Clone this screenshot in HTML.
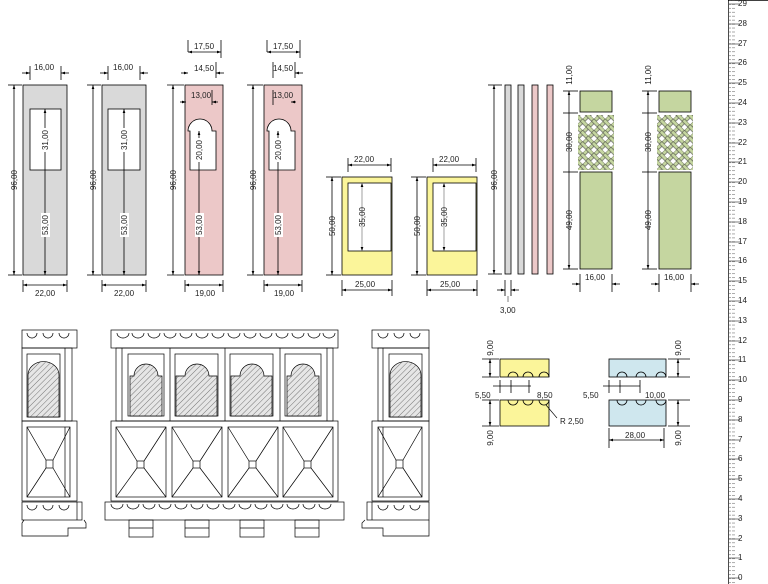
<!DOCTYPE html>
<html><head><meta charset="utf-8"><style>
html,body{margin:0;padding:0;background:#fff}
svg{display:block;font-family:"Liberation Sans",sans-serif}
text{font-size:8px;fill:#222}
</style></head><body>
<svg width="768" height="584" viewBox="0 0 768 584" xmlns="http://www.w3.org/2000/svg">
<defs>
<marker id="a" viewBox="0 0 6 6" refX="6" refY="3" markerWidth="5" markerHeight="5" orient="auto-start-reverse"><path d="M0,1 L6,3 L0,5z" fill="#000"/></marker>
<pattern id="h" width="4" height="4" patternUnits="userSpaceOnUse" patternTransform="rotate(45)"><rect width="4" height="4" fill="#e6e6e6"/><line x1="0" y1="0" x2="0" y2="4" stroke="#444" stroke-width="0.7"/></pattern>
<pattern id="g" width="8" height="8" patternUnits="userSpaceOnUse" patternTransform="rotate(45)"><rect width="8" height="8" fill="#fff"/><rect x="0" y="0" width="3.5" height="8" fill="#c5d6a0" stroke="#333" stroke-width="0.5"/><rect x="0" y="0" width="8" height="3.5" fill="#c5d6a0" stroke="#333" stroke-width="0.5"/></pattern>
<pattern id="rt" width="6" height="3.96" patternUnits="userSpaceOnUse" y="4"><line x1="0" y1="0.3" x2="5" y2="0.3" stroke="#555" stroke-width="0.5"/></pattern>
</defs>
<g stroke="#000" stroke-width="0.8" fill="none">
<rect x="23" y="85" width="44" height="190" fill="#d9d9d9"/>
<rect x="30" y="109" width="31" height="61" fill="#fff"/>
<line x1="45" y1="109" x2="45" y2="275" marker-start="url(#a)" marker-end="url(#a)"/>
<line x1="14" y1="85" x2="14" y2="275" marker-start="url(#a)" marker-end="url(#a)"/>
<line x1="8" y1="85" x2="22" y2="85"/><line x1="8" y1="275" x2="22" y2="275"/>
<line x1="30" y1="66" x2="30" y2="80"/><line x1="61" y1="66" x2="61" y2="80"/>
<line x1="22" y1="73" x2="30" y2="73" marker-end="url(#a)"/><line x1="69" y1="73" x2="61" y2="73" marker-end="url(#a)"/>
<line x1="23" y1="280" x2="23" y2="292"/><line x1="67" y1="280" x2="67" y2="292"/>
<line x1="23" y1="285" x2="67" y2="285" marker-start="url(#a)" marker-end="url(#a)"/>
<rect x="102" y="85" width="44" height="190" fill="#d9d9d9"/>
<rect x="108" y="109" width="32" height="61" fill="#fff"/>
<line x1="124" y1="109" x2="124" y2="275" marker-start="url(#a)" marker-end="url(#a)"/>
<line x1="93" y1="85" x2="93" y2="275" marker-start="url(#a)" marker-end="url(#a)"/>
<line x1="87" y1="85" x2="101" y2="85"/><line x1="87" y1="275" x2="101" y2="275"/>
<line x1="108" y1="66" x2="108" y2="80"/><line x1="140" y1="66" x2="140" y2="80"/>
<line x1="100" y1="73" x2="108" y2="73" marker-end="url(#a)"/><line x1="148" y1="73" x2="140" y2="73" marker-end="url(#a)"/>
<line x1="102" y1="280" x2="102" y2="292"/><line x1="146" y1="280" x2="146" y2="292"/>
<line x1="102" y1="285" x2="146" y2="285" marker-start="url(#a)" marker-end="url(#a)"/>
<rect x="185" y="85" width="38" height="190" fill="#ecc8c8"/>
<path d="M188,131 A12,12 0 0 1 212,131 L216,131 L216,170 L190,170 L190,131 Z" fill="#fff" stroke="#000"/>
<line x1="199" y1="131" x2="199" y2="275" marker-start="url(#a)" marker-end="url(#a)"/>
<line x1="173" y1="85" x2="173" y2="275" marker-start="url(#a)" marker-end="url(#a)"/>
<line x1="167" y1="85" x2="184" y2="85"/><line x1="167" y1="275" x2="184" y2="275"/>
<line x1="188" y1="40" x2="188" y2="52"/><line x1="221" y1="40" x2="221" y2="58"/>
<line x1="188" y1="52" x2="221" y2="52" marker-start="url(#a)" marker-end="url(#a)"/>
<line x1="216" y1="62" x2="216" y2="78"/><line x1="181" y1="73" x2="188" y2="73" marker-end="url(#a)"/><line x1="224" y1="73" x2="216" y2="73" marker-end="url(#a)"/>
<line x1="212" y1="90" x2="212" y2="105"/><line x1="180" y1="102" x2="186" y2="102" marker-end="url(#a)"/><line x1="218" y1="102" x2="212" y2="102" marker-end="url(#a)"/>
<line x1="185" y1="280" x2="185" y2="292"/><line x1="223" y1="280" x2="223" y2="292"/>
<line x1="185" y1="285" x2="223" y2="285" marker-start="url(#a)" marker-end="url(#a)"/>
<rect x="264" y="85" width="38" height="190" fill="#ecc8c8"/>
<path d="M267,131 A12,12 0 0 1 291,131 L295,131 L295,170 L269,170 L269,131 Z" fill="#fff" stroke="#000"/>
<line x1="278" y1="131" x2="278" y2="275" marker-start="url(#a)" marker-end="url(#a)"/>
<line x1="253" y1="85" x2="253" y2="275" marker-start="url(#a)" marker-end="url(#a)"/>
<line x1="247" y1="85" x2="263" y2="85"/><line x1="247" y1="275" x2="263" y2="275"/>
<line x1="267" y1="40" x2="267" y2="52"/><line x1="300" y1="40" x2="300" y2="58"/>
<line x1="267" y1="52" x2="300" y2="52" marker-start="url(#a)" marker-end="url(#a)"/>
<line x1="295" y1="62" x2="295" y2="78"/><line x1="273" y1="62" x2="273" y2="78"/><line x1="303" y1="73" x2="295" y2="73" marker-end="url(#a)"/>
<line x1="273" y1="90" x2="273" y2="105"/><line x1="296" y1="102" x2="291" y2="102" marker-end="url(#a)"/>
<line x1="264" y1="280" x2="264" y2="292"/><line x1="302" y1="280" x2="302" y2="292"/>
<line x1="264" y1="285" x2="302" y2="285" marker-start="url(#a)" marker-end="url(#a)"/>
<rect x="342" y="177" width="50" height="98" fill="#fbf59a"/>
<rect x="348" y="183" width="43" height="68" fill="#fff"/>
<line x1="362" y1="183" x2="362" y2="251" stroke="#888" marker-start="url(#a)" marker-end="url(#a)"/>
<line x1="332" y1="177" x2="332" y2="275" marker-start="url(#a)" marker-end="url(#a)"/>
<line x1="326" y1="177" x2="341" y2="177"/><line x1="326" y1="275" x2="341" y2="275"/>
<line x1="348" y1="158" x2="348" y2="172"/><line x1="391" y1="158" x2="391" y2="172"/>
<line x1="348" y1="165" x2="391" y2="165" marker-start="url(#a)" marker-end="url(#a)"/>
<line x1="342" y1="280" x2="342" y2="296"/><line x1="392" y1="280" x2="392" y2="296"/>
<line x1="342" y1="290" x2="392" y2="290" marker-start="url(#a)" marker-end="url(#a)"/>
<rect x="427" y="177" width="50" height="98" fill="#fbf59a"/>
<rect x="433" y="183" width="43" height="68" fill="#fff"/>
<line x1="444" y1="183" x2="444" y2="251" stroke="#888" marker-start="url(#a)" marker-end="url(#a)"/>
<line x1="417" y1="177" x2="417" y2="275" marker-start="url(#a)" marker-end="url(#a)"/>
<line x1="411" y1="177" x2="426" y2="177"/><line x1="411" y1="275" x2="426" y2="275"/>
<line x1="433" y1="158" x2="433" y2="172"/><line x1="476" y1="158" x2="476" y2="172"/>
<line x1="433" y1="165" x2="476" y2="165" marker-start="url(#a)" marker-end="url(#a)"/>
<line x1="427" y1="280" x2="427" y2="296"/><line x1="477" y1="280" x2="477" y2="296"/>
<line x1="427" y1="290" x2="477" y2="290" marker-start="url(#a)" marker-end="url(#a)"/>
<rect x="505" y="85" width="6" height="189" fill="#d9d9d9"/>
<rect x="518" y="85" width="6" height="189" fill="#d9d9d9"/>
<rect x="532" y="85" width="6" height="189" fill="#ecc8c8"/>
<rect x="547" y="85" width="6" height="189" fill="#ecc8c8"/>
<line x1="494" y1="85" x2="494" y2="274" marker-start="url(#a)" marker-end="url(#a)"/>
<line x1="488" y1="85" x2="502" y2="85"/><line x1="488" y1="274" x2="502" y2="274"/>
<line x1="505" y1="280" x2="505" y2="296"/><line x1="511" y1="280" x2="511" y2="296"/>
<line x1="497" y1="290" x2="505" y2="290" marker-end="url(#a)"/><line x1="519" y1="290" x2="511" y2="290" marker-end="url(#a)"/>
<line x1="508" y1="296" x2="508" y2="302" stroke-width="0.5"/>
<rect x="580" y="91" width="32" height="21" fill="#c5d6a0"/>
<rect x="578" y="115" width="36" height="55" fill="url(#g)" stroke="none"/>
<rect x="580" y="172" width="32" height="97" fill="#c5d6a0"/>
<line x1="569" y1="91" x2="569" y2="269" marker-start="url(#a)" marker-end="url(#a)"/>
<line x1="563" y1="91" x2="578" y2="91"/><line x1="563" y1="113" x2="578" y2="113"/><line x1="563" y1="172" x2="578" y2="172"/><line x1="563" y1="269" x2="578" y2="269"/>
<line x1="580" y1="274" x2="580" y2="292"/><line x1="612" y1="274" x2="612" y2="292"/>
<line x1="572" y1="284" x2="580" y2="284" marker-end="url(#a)"/><line x1="620" y1="284" x2="612" y2="284" marker-end="url(#a)"/>
<rect x="659" y="91" width="32" height="21" fill="#c5d6a0"/>
<rect x="657" y="115" width="36" height="55" fill="url(#g)" stroke="none"/>
<rect x="659" y="172" width="32" height="97" fill="#c5d6a0"/>
<line x1="648" y1="91" x2="648" y2="269" marker-start="url(#a)" marker-end="url(#a)"/>
<line x1="642" y1="91" x2="657" y2="91"/><line x1="642" y1="113" x2="657" y2="113"/><line x1="642" y1="172" x2="657" y2="172"/><line x1="642" y1="269" x2="657" y2="269"/>
<line x1="659" y1="274" x2="659" y2="292"/><line x1="691" y1="274" x2="691" y2="292"/>
<line x1="651" y1="284" x2="659" y2="284" marker-end="url(#a)"/><line x1="699" y1="284" x2="691" y2="284" marker-end="url(#a)"/>
<rect x="500" y="359" width="49" height="18" fill="#fbf59a"/>
<rect x="500" y="400" width="49" height="26" fill="#fbf59a"/>
<path d="M508,377 a5,5 0 0 1 10,0 M523,377 a5,5 0 0 1 10,0 M539,377 a5,5 0 0 1 10,0 M508,400 a5,5 0 0 0 10,0 M523,400 a5,5 0 0 0 10,0 M539,400 a5,5 0 0 0 10,0"/>
<line x1="482" y1="359" x2="499" y2="359"/><line x1="482" y1="377" x2="499" y2="377"/><line x1="482" y1="400" x2="499" y2="400"/><line x1="482" y1="426" x2="499" y2="426"/>
<line x1="490" y1="359" x2="490" y2="377" marker-start="url(#a)" marker-end="url(#a)"/>
<line x1="490" y1="400" x2="490" y2="426" marker-start="url(#a)" marker-end="url(#a)"/>
<line x1="493" y1="386" x2="531" y2="386"/><line x1="500" y1="380" x2="500" y2="393"/><line x1="511" y1="380" x2="511" y2="393"/><line x1="529" y1="380" x2="529" y2="393"/>
<line x1="546" y1="405" x2="557" y2="418" stroke-width="0.6"/>
<rect x="609" y="359" width="57" height="18" fill="#cfe7ee"/>
<rect x="609" y="400" width="57" height="26" fill="#cfe7ee"/>
<path d="M617,377 a5,5 0 0 1 10,0 M636,377 a5,5 0 0 1 10,0 M656,377 a5,5 0 0 1 10,0 M617,400 a5,5 0 0 0 10,0 M636,400 a5,5 0 0 0 10,0 M656,400 a5,5 0 0 0 10,0"/>
<line x1="668" y1="359" x2="690" y2="359"/><line x1="668" y1="377" x2="690" y2="377"/><line x1="668" y1="400" x2="690" y2="400"/><line x1="668" y1="426" x2="690" y2="426"/>
<line x1="678" y1="359" x2="678" y2="377" marker-start="url(#a)" marker-end="url(#a)"/>
<line x1="678" y1="400" x2="678" y2="426" marker-start="url(#a)" marker-end="url(#a)"/>
<line x1="603" y1="386" x2="640" y2="386"/><line x1="609" y1="380" x2="609" y2="393"/><line x1="620" y1="380" x2="620" y2="393"/><line x1="640" y1="380" x2="640" y2="393"/>
<line x1="609" y1="440" x2="664" y2="440" marker-start="url(#a)" marker-end="url(#a)"/>
<line x1="609" y1="428" x2="609" y2="448"/><line x1="664" y1="428" x2="664" y2="448"/>
</g>
<g stroke="#000" stroke-width="0.7" fill="none">
<rect x="22" y="330" width="55" height="18"/>
<path d="M27,333 a5,5 0 0 0 10,0 M43,333 a5,5 0 0 0 10,0 M59,333 a5,5 0 0 0 10,0"/>
<rect x="22" y="348" width="50" height="73"/><line x1="65" y1="348" x2="65" y2="421"/>
<rect x="27" y="354" width="33" height="63"/>
<path d="M28,417 L28,375 A15,13 0 0 1 59,375 L59,417 Z" fill="url(#h)"/>
<rect x="22" y="421" width="55" height="80"/>
<rect x="27" y="427" width="43" height="70"/><line x1="65" y1="427" x2="65" y2="497"/>
<path d="M27,427 L46,460 M70,427 L53,460 M27,497 L46,468 M70,497 L53,468"/>
<rect x="46" y="460" width="7" height="8"/>
<rect x="22" y="502" width="60" height="18"/>
<path d="M27,505 a5,5 0 0 0 10,0 M43,505 a5,5 0 0 0 10,0 M59,505 a5,5 0 0 0 10,0"/><line x1="77" y1="502" x2="77" y2="520"/>
<path d="M24,520 L22,523 L22,536 L68,536 L68,528 L86,528 L86,523 L84,520"/>
<rect x="111" y="330" width="227" height="18"/>
<path d="M117,333 a6,5 0 0 0 12,0 M132,333 a6,5 0 0 0 12,0 M148,333 a6,5 0 0 0 12,0 M164,333 a6,5 0 0 0 12,0 M180,333 a6,5 0 0 0 12,0 M196,333 a6,5 0 0 0 12,0 M212,333 a6,5 0 0 0 12,0 M228,333 a6,5 0 0 0 12,0 M244,333 a6,5 0 0 0 12,0 M260,333 a6,5 0 0 0 12,0 M276,333 a6,5 0 0 0 12,0 M292,333 a6,5 0 0 0 12,0 M308,333 a6,5 0 0 0 12,0 M323,333 a6,5 0 0 0 12,0"/>
<rect x="116" y="348" width="217" height="73"/>
<path d="M122,348 V421 M327,348 V421 M170,348 V421 M225,348 V421 M280,348 V421"/>
<rect x="128" y="354" width="36" height="62"/><rect x="175" y="354" width="43" height="62"/><rect x="230" y="354" width="43" height="62"/><rect x="285" y="354" width="36" height="62"/>
<path d="M130,416 L130,376 L134,376 A12,12 0 0 1 158,376 L162,376 L162,416 Z" fill="url(#h)"/>
<path d="M176,416 L176,376 L185,376 A12,12 0 0 1 209,376 L217,376 L217,416 Z" fill="url(#h)"/>
<path d="M231,416 L231,376 L240,376 A12,12 0 0 1 264,376 L272,376 L272,416 Z" fill="url(#h)"/>
<path d="M287,416 L287,376 L291,376 A12,12 0 0 1 315,376 L319,376 L319,416 Z" fill="url(#h)"/>
<rect x="111" y="421" width="227" height="80"/>
<rect x="116" y="427" width="50" height="70"/><rect x="172" y="427" width="50" height="70"/><rect x="228" y="427" width="50" height="70"/><rect x="283" y="427" width="50" height="70"/>
<path d="M116,427 L137,461 M166,427 L144,461 M116,497 L137,468 M166,497 L144,468 M172,427 L193,461 M222,427 L200,461 M172,497 L193,468 M222,497 L200,468 M228,427 L249,461 M278,427 L256,461 M228,497 L249,468 M278,497 L256,468 M283,427 L304,461 M333,427 L311,461 M283,497 L304,468 M333,497 L311,468"/>
<rect x="137" y="461" width="7" height="7"/><rect x="193" y="461" width="7" height="7"/><rect x="249" y="461" width="7" height="7"/><rect x="304" y="461" width="7" height="7"/>
<rect x="105" y="502" width="239" height="18"/>
<path d="M111,504 a6,5 0 0 0 12,0 M127,504 a6,5 0 0 0 12,0 M143,504 a6,5 0 0 0 12,0 M159,504 a6,5 0 0 0 12,0 M175,504 a6,5 0 0 0 12,0 M191,504 a6,5 0 0 0 12,0 M207,504 a6,5 0 0 0 12,0 M223,504 a6,5 0 0 0 12,0 M239,504 a6,5 0 0 0 12,0 M255,504 a6,5 0 0 0 12,0 M271,504 a6,5 0 0 0 12,0 M287,504 a6,5 0 0 0 12,0 M303,504 a6,5 0 0 0 12,0 M319,504 a6,5 0 0 0 12,0"/>
<rect x="129" y="520" width="24" height="17"/><rect x="185" y="520" width="24" height="17"/><rect x="240" y="520" width="24" height="17"/><rect x="295" y="520" width="24" height="17"/>
<path d="M129,528 H153 M185,528 H209 M240,528 H264 M295,528 H319"/>
<rect x="372" y="330" width="57" height="18"/>
<path d="M378,333 a5,5 0 0 0 10,0 M394,333 a5,5 0 0 0 10,0 M410,333 a5,5 0 0 0 10,0"/>
<rect x="378" y="348" width="51" height="73"/><line x1="383" y1="348" x2="383" y2="421"/>
<rect x="389" y="354" width="33" height="63"/>
<path d="M390,417 L390,375 A15,13 0 0 1 421,375 L421,417 Z" fill="url(#h)"/>
<rect x="372" y="421" width="57" height="80"/>
<rect x="378" y="427" width="44" height="70"/><line x1="383" y1="427" x2="383" y2="497"/>
<path d="M378,427 L396,460 M422,427 L403,460 M378,497 L396,468 M422,497 L403,468"/>
<rect x="396" y="460" width="7" height="8"/>
<rect x="367" y="502" width="62" height="18"/><line x1="372" y1="502" x2="372" y2="520"/>
<path d="M378,505 a5,5 0 0 0 10,0 M394,505 a5,5 0 0 0 10,0 M410,505 a5,5 0 0 0 10,0"/>
<path d="M365,520 L362,523 L362,528 L383,528 L383,536 L429,536 L429,520"/>
</g>
<g stroke="#000" stroke-width="0.7">
<line x1="728.5" y1="0" x2="728.5" y2="584"/>
<line x1="768" y1="0.5" x2="728" y2="0.5"/>
</g>
<rect x="729" y="0" width="6" height="584" fill="url(#rt)"/>
<g stroke="#000" stroke-width="0.6">
<path d="M729,4H740 M729,24H740 M729,44H740 M729,63H740 M729,83H740 M729,103H740 M729,123H740 M729,143H740 M729,162H740 M729,182H740 M729,202H740 M729,222H740 M729,242H740 M729,261H740 M729,281H740 M729,301H740 M729,321H740 M729,341H740 M729,360H740 M729,380H740 M729,400H740 M729,420H740 M729,440H740 M729,459H740 M729,479H740 M729,499H740 M729,519H740 M729,539H740 M729,558H740 M729,578H740"/>
</g>
<g style="font-size:6px;fill:#555">
<text x="738" y="6">29</text><text x="738" y="26">28</text><text x="738" y="46">27</text><text x="738" y="65">26</text><text x="738" y="85">25</text><text x="738" y="105">24</text><text x="738" y="125">23</text><text x="738" y="145">22</text><text x="738" y="164">21</text><text x="738" y="184">20</text><text x="738" y="204">19</text><text x="738" y="224">18</text><text x="738" y="244">17</text><text x="738" y="263">16</text><text x="738" y="283">15</text><text x="738" y="303">14</text><text x="738" y="323">13</text><text x="738" y="343">12</text><text x="738" y="362">11</text><text x="738" y="382">10</text><text x="738" y="402">9</text><text x="738" y="422">8</text><text x="738" y="442">7</text><text x="738" y="461">6</text><text x="738" y="481">5</text><text x="738" y="501">4</text><text x="738" y="521">3</text><text x="738" y="541">2</text><text x="738" y="560">1</text><text x="738" y="580">0</text>
</g>
<g>
<text x="34" y="70">16,00</text><text x="113" y="70">16,00</text>
<text x="35" y="296">22,00</text><text x="114" y="296">22,00</text>
<text x="194" y="49">17,50</text><text x="194" y="71">14,50</text><text x="191" y="98">13,00</text>
<text x="273" y="49">17,50</text><text x="273" y="71">14,50</text><text x="273" y="98">13,00</text>
<text x="195" y="296">19,00</text><text x="274" y="296">19,00</text>
<text x="354" y="162">22,00</text><text x="439" y="162">22,00</text>
<text x="355" y="287">25,00</text><text x="440" y="287">25,00</text>
<text x="500" y="313">3,00</text>
<text x="585" y="280">16,00</text><text x="664" y="280">16,00</text>
<text x="475" y="398">5,50</text><text x="537" y="398">8,50</text><text x="560" y="424">R 2,50</text>
<text x="583" y="398">5,50</text><text x="645" y="398">10,00</text><text x="625" y="438">28,00</text>
</g>
<g>
<g transform="translate(17,180) rotate(-90)"><text text-anchor="middle">96,00</text></g>
<g transform="translate(96,180) rotate(-90)"><text text-anchor="middle">96,00</text></g>
<g transform="translate(176,180) rotate(-90)"><text text-anchor="middle">96,00</text></g>
<g transform="translate(256,180) rotate(-90)"><text text-anchor="middle">96,00</text></g>
<g transform="translate(497,180) rotate(-90)"><text text-anchor="middle">96,00</text></g>
<g transform="translate(48,140) rotate(-90)"><rect x="-12" y="-7" width="24" height="9" fill="#fff"/><text text-anchor="middle">31,00</text></g>
<g transform="translate(127,140) rotate(-90)"><rect x="-12" y="-7" width="24" height="9" fill="#fff"/><text text-anchor="middle">31,00</text></g>
<g transform="translate(48,225) rotate(-90)"><rect x="-12" y="-7" width="24" height="9" fill="#fff"/><text text-anchor="middle">53,00</text></g>
<g transform="translate(127,225) rotate(-90)"><rect x="-12" y="-7" width="24" height="9" fill="#fff"/><text text-anchor="middle">53,00</text></g>
<g transform="translate(202,150) rotate(-90)"><rect x="-12" y="-7" width="24" height="9" fill="#fff"/><text text-anchor="middle">20,00</text></g>
<g transform="translate(281,150) rotate(-90)"><rect x="-12" y="-7" width="24" height="9" fill="#fff"/><text text-anchor="middle">20,00</text></g>
<g transform="translate(202,225) rotate(-90)"><rect x="-12" y="-7" width="24" height="9" fill="#fff"/><text text-anchor="middle">53,00</text></g>
<g transform="translate(281,225) rotate(-90)"><rect x="-12" y="-7" width="24" height="9" fill="#fff"/><text text-anchor="middle">53,00</text></g>
<g transform="translate(335,226) rotate(-90)"><text text-anchor="middle">50,00</text></g>
<g transform="translate(420,226) rotate(-90)"><text text-anchor="middle">50,00</text></g>
<g transform="translate(365,217) rotate(-90)"><text text-anchor="middle">35,00</text></g>
<g transform="translate(447,217) rotate(-90)"><text text-anchor="middle">35,00</text></g>
<g transform="translate(572,75) rotate(-90)"><text text-anchor="middle">11,00</text></g>
<g transform="translate(572,142) rotate(-90)"><text text-anchor="middle">30,00</text></g>
<g transform="translate(572,220) rotate(-90)"><text text-anchor="middle">49,00</text></g>
<g transform="translate(651,75) rotate(-90)"><text text-anchor="middle">11,00</text></g>
<g transform="translate(651,142) rotate(-90)"><text text-anchor="middle">30,00</text></g>
<g transform="translate(651,220) rotate(-90)"><text text-anchor="middle">49,00</text></g>
<g transform="translate(493,348) rotate(-90)"><text text-anchor="middle">9,00</text></g>
<g transform="translate(493,438) rotate(-90)"><text text-anchor="middle">9,00</text></g>
<g transform="translate(681,348) rotate(-90)"><text text-anchor="middle">9,00</text></g>
<g transform="translate(681,438) rotate(-90)"><text text-anchor="middle">9,00</text></g>
</g>
</svg>
</body></html>
